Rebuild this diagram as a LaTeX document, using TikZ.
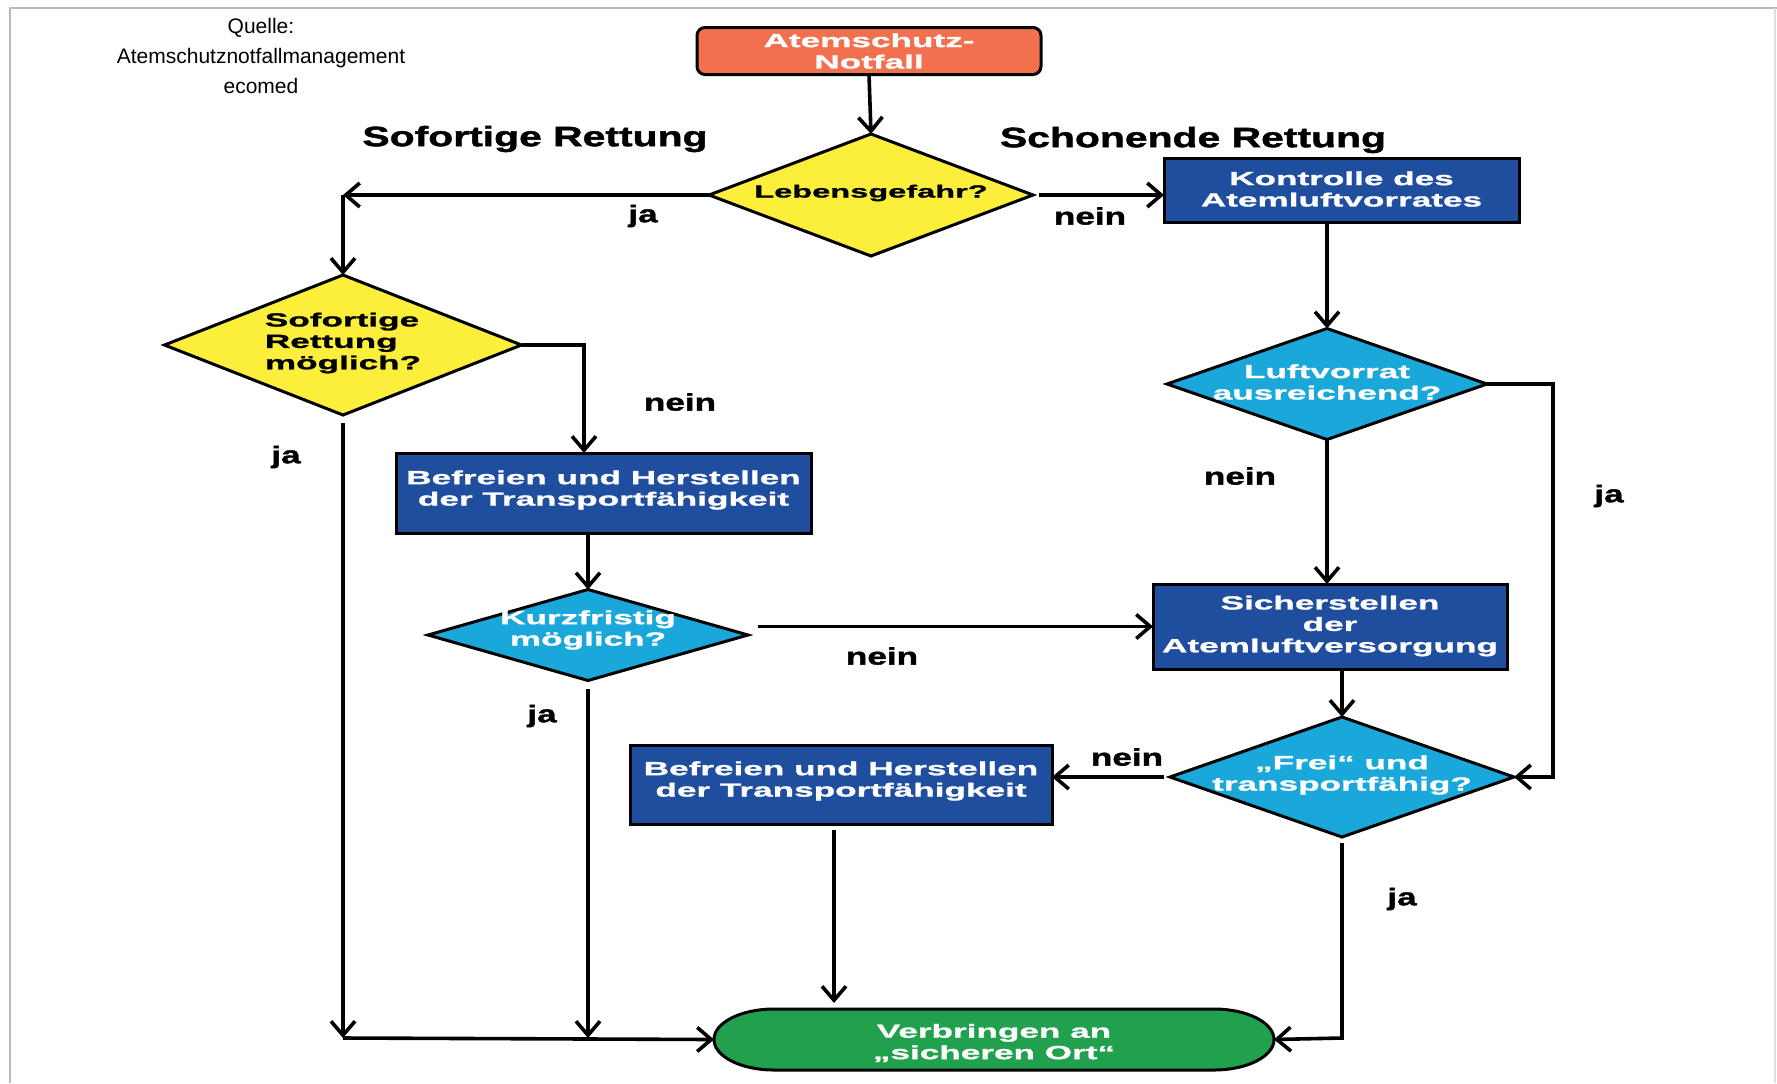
\documentclass[tikz,border=0pt]{standalone}
\usepackage{fontspec}
\setmainfont{Liberation Sans}
\newfontfamily\wf[FakeStretch=1.85,FakeBold=1.3]{Liberation Sans}
\newfontfamily\tf[FakeStretch=1.46,FakeBold=1.6]{Liberation Sans}
\usetikzlibrary{arrows.meta,shapes.geometric,calc}
\definecolor{orng}{HTML}{F2704E}
\definecolor{ylw}{HTML}{FCEF3C}
\definecolor{dblue}{HTML}{1F4E9E}
\definecolor{cyn}{HTML}{1AA8DA}
\definecolor{grn}{HTML}{21A04E}
\begin{document}
\begin{tikzpicture}[x=0.5pt,y=-0.5pt,
  every node/.style={inner sep=0pt,outer sep=0pt},
  boxtext/.style={font=\wf\bfseries\fontsize{9.5}{10.7}\selectfont,align=center},
  box/.style={draw=black,line width=1.5pt,fill=dblue},
  dia/.style={diamond,draw=black,line width=1.5pt},
  ytxt/.style={boxtext,text=black},
  wtxt/.style={boxtext,text=white},
  lbl/.style={font=\tf\bfseries\fontsize{12}{12}\selectfont},
  ttl/.style={font=\tf\bfseries\fontsize{14}{14}\selectfont},
  arr/.style={line width=1.8pt,-{Straight Barb[length=7pt,width=12pt]}},
]
\useasboundingbox (0,0) rectangle (1777,1083);
% frame
\draw[gray!55,line width=1.2pt] (10,1083) -- (10,8) -- (1777,8);
\draw[gray!25,line width=1pt] (1775,8) -- (1775,1083);

% source note
\node[font=\fontsize{10.5}{15}\selectfont,align=center] (quelle) at (261,56)
  {Quelle:\\Atemschutznotfallmanagement\\ecomed};

% titles
\node[ttl] (tsof) at (535,139) {Sofortige Rettung};
\node[ttl] (tsch) at (1193,140) {Schonende Rettung};

% nodes
\node[draw=black,line width=1.5pt,fill=orng,rounded corners=4pt,
  minimum width=172pt,minimum height=23.5pt] (notf) at (869,51) {};
\node[wtxt] (notft) at (869,51) {Atemschutz-\\Notfall};

\node[dia,fill=ylw,minimum width=162pt,minimum height=61pt] (leb) at (871,195) {};
\node[ytxt,font=\wf\bfseries\fontsize{8.8}{10.7}\selectfont] (lebt) at (871,193) {Lebensgefahr?};

\node[box,minimum width=177.5pt,minimum height=32pt] (kontr) at (1341.5,190) {};
\node[wtxt] (kontrt) at (1341.5,189) {Kontrolle des\\Atemluftvorrates};

\node[dia,fill=ylw,minimum width=178.5pt,minimum height=70pt] (sof) at (343,345) {};
\node[ytxt,align=left] (soft) at (343,343) {Sofortige\\Rettung\\möglich?};

\node[dia,fill=cyn,minimum width=160pt,minimum height=55.5pt] (luft) at (1327,384) {};
\node[wtxt] (luftt) at (1327,382) {Luftvorrat\\ausreichend?};

\node[box,minimum width=207.5pt,minimum height=40pt] (bef1) at (603.5,493) {};
\node[wtxt] (bef1t) at (603.5,490) {Befreien und Herstellen\\der Transportfähigkeit};

\node[dia,fill=cyn,minimum width=160pt,minimum height=45.5pt] (kurz) at (588,635) {};
\node[wtxt] (kurzt) at (588,630) {Kurzfristig\\möglich?};

\node[box,minimum width=177pt,minimum height=42.5pt] (sich) at (1330,626.5) {};
\node[wtxt] (sicht) at (1330,626) {Sicherstellen\\der\\Atemluftversorgung};

\node[dia,fill=cyn,minimum width=172pt,minimum height=60pt] (frei) at (1342,777) {};
\node[wtxt] (freit) at (1342,775) {„Frei“ und\\transportfähig?};

\node[box,minimum width=211pt,minimum height=39.5pt] (bef2) at (841,784.5) {};
\node[wtxt] (bef2t) at (841,781) {Befreien und Herstellen\\der Transportfähigkeit};

\node[minimum width=280pt,minimum height=30.5pt] (verb) at (994,1039.5) {};
\draw[line width=1.5pt,fill=grn]
  ($(verb.north west)+(60,0)$) -- ($(verb.north east)-(60,0)$)
  arc[start angle=-90,end angle=90,x radius=60,y radius=30.5]
  -- ($(verb.south west)+(60,0)$)
  arc[start angle=90,end angle=270,x radius=60,y radius=30.5] -- cycle;
\node[wtxt] (verbt) at (994,1043) {Verbringen an\\„sicheren Ort“};

% helper coordinates
\coordinate (c1) at (343,195);
\coordinate (c2) at (584,345);
\coordinate (c3) at (1553,384);
\coordinate (c4) at (1553,777);
\coordinate (c5) at (1342,1038);
\coordinate (j1) at (343,1038);
\coordinate (j2) at (588,1038);

% connectors
\draw[arr] (notf.south) -- (leb.north);
\draw[arr] (leb.west) -- (c1);
\draw[arr] (c1) -- (sof.north);
\draw[arr] ([xshift=3pt]leb.east) -- (leb.east -| kontr.west);
\draw[arr] (kontr.south -| luft.north) -- (luft.north);
\draw[arr] (luft.east) -- (c3) -- (c4) -- (frei.east);
\draw[arr] (luft.south) -- (luft.south |- sich.north);
\draw[arr] (sich.south -| frei.north) -- (frei.north);
\draw[arr] ([xshift=-3pt]frei.west) -- (frei.west -| bef2.east);
\draw[arr] ([yshift=-3pt]bef2.south -| 834,0) -- (834,1003);
\draw[arr] ([yshift=-3pt]frei.south) -- (c5) -- (verb.east);
\draw[arr] (sof.east) -- (c2) -- (c2 |- bef1.north);
\draw[arr] (bef1.south -| kurz.north) -- (kurz.north);
\draw[arr] ([xshift=5pt]kurz.east |- sich.west) -- (sich.west);
\draw[arr] ([yshift=-4pt]kurz.south) -- (j2);
\draw[arr] ([yshift=-4pt]sof.south) -- (j1);
\draw[arr] (j1) -- (verb.west);

% labels
\node[lbl] (l1) at (643,216) {ja};
\node[lbl] (l2) at (1090,216) {nein};
\node[lbl] (l3) at (680,402) {nein};
\node[lbl] (l4) at (286,457) {ja};
\node[lbl] (l5) at (1240,476) {nein};
\node[lbl] (l6) at (1609,496) {ja};
\node[lbl] (l7) at (882,656) {nein};
\node[lbl] (l8) at (542,716) {ja};
\node[lbl] (l9) at (1127,757) {nein};
\node[lbl] (l10) at (1402,899) {ja};
\end{tikzpicture}
\end{document}
